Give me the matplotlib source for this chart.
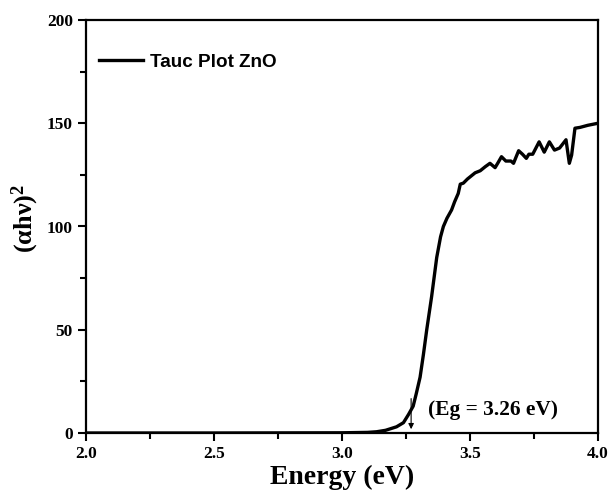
import matplotlib
matplotlib.use("Agg")
import matplotlib.pyplot as plt
from matplotlib.ticker import MultipleLocator

plt.rcParams["mathtext.fontset"] = "custom"
plt.rcParams["mathtext.bf"] = "Liberation Serif:bold"
plt.rcParams["mathtext.rm"] = "Liberation Serif"
plt.rcParams["mathtext.it"] = "Liberation Serif:italic"

energy = [2.00, 2.50, 3.00, 3.10, 3.135, 3.17, 3.213, 3.24, 3.26, 3.278, 3.29,
          3.305, 3.318, 3.331, 3.35, 3.37, 3.385, 3.396, 3.41, 3.428, 3.44, 3.454,
          3.462, 3.474, 3.49, 3.50, 3.52, 3.54, 3.56, 3.578, 3.598, 3.61, 3.623,
          3.64, 3.66, 3.67, 3.69, 3.705, 3.72, 3.73, 3.745, 3.77, 3.79, 3.81, 3.83,
          3.85, 3.875, 3.888, 3.897, 3.91, 3.93, 3.96, 4.00]
tauc = [0.0, 0.0, 0.1, 0.3, 0.6, 1.3, 3.0, 5.0, 9.0, 13.0, 19.0,
        27.0, 38.0, 50.0, 66.0, 85.0, 95.0, 100.0, 104.0, 108.0, 112.0, 116.0,
        120.5, 121.0, 123.0, 124.0, 126.0, 127.0, 129.0, 130.6, 128.5, 131.0, 133.8,
        131.7, 131.7, 130.6, 136.7, 135.0, 133.0, 135.0, 135.0, 141.0, 136.0, 141.0, 137.0,
        138.0, 142.0, 130.6, 134.6, 147.6, 148.0, 149.0, 150.0]

fig = plt.figure(figsize=(6.1, 4.9), dpi=100)
ax = fig.add_axes([86/610, 1-433/490, 512/610, 413/490])

ax.plot(energy, tauc, color="black", lw=2.4, label="Tauc Plot ZnO")
ax.set_xlim(2.0, 4.0)
ax.set_ylim(0, 200)

ax.xaxis.set_major_locator(MultipleLocator(0.5))
ax.xaxis.set_minor_locator(MultipleLocator(0.25))
ax.yaxis.set_major_locator(MultipleLocator(50))
ax.yaxis.set_minor_locator(MultipleLocator(25))
ax.tick_params(which="both", direction="out", width=1.5, top=False, right=False)
ax.tick_params(which="major", length=6)
ax.tick_params(which="minor", length=4)
for s in ax.spines.values():
    s.set_linewidth(1.6)

ax.set_xticks([2.0, 2.5, 3.0, 3.5, 4.0])
ax.set_xticklabels(["2.0", "2.5", "3.0", "3.5", "4.0"])
for lab in ax.get_xticklabels() + ax.get_yticklabels():
    lab.set_fontfamily("Liberation Serif")
    lab.set_fontweight("bold")
    lab.set_fontsize(12.5)

ax.set_xlabel("Energy (eV)", family="Liberation Serif", fontweight="bold", fontsize=20, labelpad=2)
ax.set_ylabel(r"$\mathbf{(\alpha h\nu)^2}$", family="Liberation Serif", fontsize=19)
ax.yaxis.set_label_coords(-0.088, 0.52)

ax.annotate("", xy=(3.27, 0.5), xytext=(3.27, 18),
            arrowprops=dict(arrowstyle="-|>", color="black", lw=0.8, mutation_scale=8))
ax.text(3.335, 11, "(Eg = 3.26 eV)", family="Liberation Serif", fontweight="bold",
        fontsize=15.4, va="center", ha="left")

leg = ax.legend(loc="center left", bbox_to_anchor=(0.0, 1-42/413), frameon=False,
                handlelength=2.3, handletextpad=0.4, borderaxespad=0.3,
                prop={"family": "Liberation Sans", "weight": "bold", "size": 13.6})

fig.savefig("out.png", dpi=100)
